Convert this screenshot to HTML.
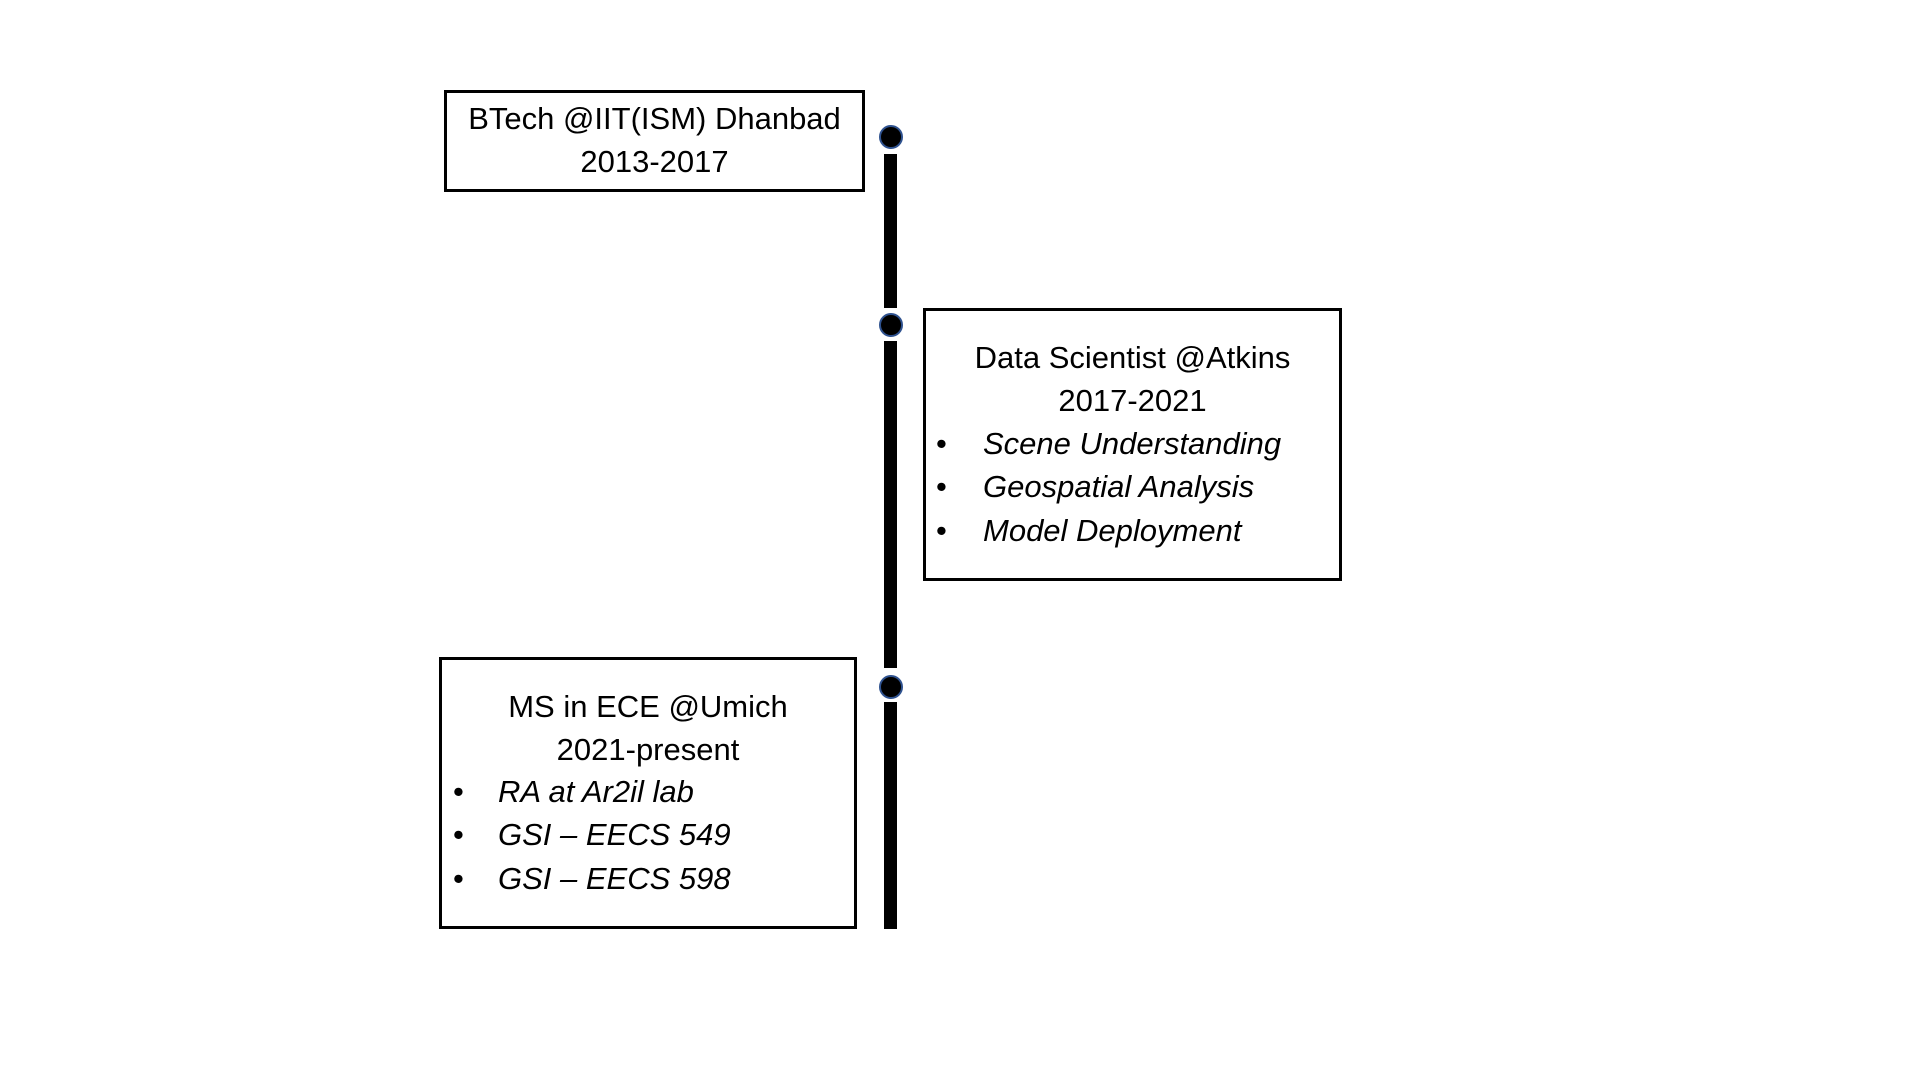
<!DOCTYPE html>
<html><head><meta charset="utf-8"><style>
body{margin:0;width:1920px;height:1080px;background:#fff;position:relative;overflow:hidden;font-family:"Liberation Sans",sans-serif;color:#000}
.box{position:absolute;border:3px solid #000;box-sizing:border-box}
.t{position:absolute;left:0;right:0;text-align:center;font-size:31px;line-height:43px;white-space:nowrap}
.b{position:absolute;font-size:31px;line-height:43px;white-space:nowrap;font-style:italic}
.d{position:absolute;font-size:31px;line-height:43px}
.seg{position:absolute;left:884px;width:13px;background:#000}
.dot{position:absolute;width:20px;height:20px;border-radius:50%;background:#000;border:2px solid #2f528f;left:879px}
</style></head><body>
<div class="box" style="left:444px;top:90px;width:421px;height:102px">
<div class="t" style="top:4px">BTech @IIT(ISM) Dhanbad</div>
<div class="t" style="top:47px">2013-2017</div>
</div>
<div class="seg" style="top:154px;height:154px"></div>
<div class="seg" style="top:341px;height:327px"></div>
<div class="seg" style="top:702px;height:227px"></div>
<div class="dot" style="top:125px"></div>
<div class="dot" style="top:313px"></div>
<div class="dot" style="top:675px"></div>

<div class="box" style="left:923px;top:308px;width:419px;height:273px">
<div class="t" style="top:25px">Data Scientist @Atkins</div>
<div class="t" style="top:68px">2017-2021</div>
</div>
<div class="d" style="left:936px;top:422px">•</div><div class="b" style="left:983px;top:422px">Scene Understanding</div>
<div class="d" style="left:936px;top:465px">•</div><div class="b" style="left:983px;top:465px">Geospatial Analysis</div>
<div class="d" style="left:936px;top:509px">•</div><div class="b" style="left:983px;top:509px">Model Deployment</div>

<div class="box" style="left:439px;top:657px;width:418px;height:272px">
<div class="t" style="top:25px">MS in ECE @Umich</div>
<div class="t" style="top:68px">2021-present</div>
</div>
<div class="d" style="left:453px;top:770px">•</div><div class="b" style="left:498px;top:770px">RA at Ar2il lab</div>
<div class="d" style="left:453px;top:813px">•</div><div class="b" style="left:498px;top:813px">GSI – EECS 549</div>
<div class="d" style="left:453px;top:857px">•</div><div class="b" style="left:498px;top:857px">GSI – EECS 598</div>
</body></html>
